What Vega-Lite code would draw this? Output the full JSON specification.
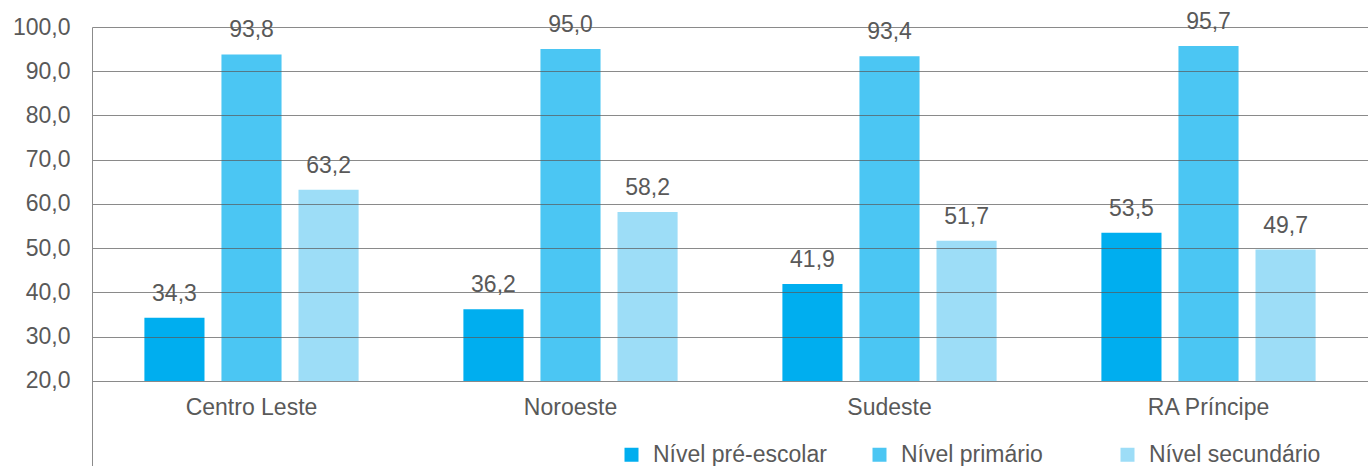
{
  "$schema": "https://vega.github.io/schema/vega-lite/v6.json",
  "autosize": {"type": "none"},
  "padding": {"left": 92, "top": 27, "right": 0, "bottom": 0},
  "width": 1276,
  "height": 439,
  "background": "white",
  "config": {
    "locale": {"number": {"decimal": ",", "thousands": ".", "grouping": [3], "currency": ["", ""]}},
    "font": "Liberation Sans",
    "view": {"stroke": null}
  },
  "datasets": {
    "main": [
      {"regiao": "Centro Leste", "nivel": "Nível pré-escolar", "valor": 34.3},
      {"regiao": "Centro Leste", "nivel": "Nível primário", "valor": 93.8},
      {"regiao": "Centro Leste", "nivel": "Nível secundário", "valor": 63.2},
      {"regiao": "Noroeste", "nivel": "Nível pré-escolar", "valor": 36.2},
      {"regiao": "Noroeste", "nivel": "Nível primário", "valor": 95.0},
      {"regiao": "Noroeste", "nivel": "Nível secundário", "valor": 58.2},
      {"regiao": "Sudeste", "nivel": "Nível pré-escolar", "valor": 41.9},
      {"regiao": "Sudeste", "nivel": "Nível primário", "valor": 93.4},
      {"regiao": "Sudeste", "nivel": "Nível secundário", "valor": 51.7},
      {"regiao": "RA Príncipe", "nivel": "Nível pré-escolar", "valor": 53.5},
      {"regiao": "RA Príncipe", "nivel": "Nível primário", "valor": 95.7},
      {"regiao": "RA Príncipe", "nivel": "Nível secundário", "valor": 49.7}
    ],
    "cats": [
      {"regiao": "Centro Leste"},
      {"regiao": "Noroeste"},
      {"regiao": "Sudeste"},
      {"regiao": "RA Príncipe"}
    ]
  },
  "layer": [
    {
      "data": {"name": "main"},
      "mark": {"type": "bar"},
      "encoding": {
        "x": {"field": "regiao", "type": "nominal", "sort": ["Centro Leste", "Noroeste", "Sudeste", "RA Príncipe"], "scale": {"paddingInner": 0, "paddingOuter": 0}, "axis": null},
        "xOffset": {"field": "nivel", "type": "nominal", "sort": ["Nível pré-escolar", "Nível primário", "Nível secundário"], "scale": {"paddingInner": 0.22, "paddingOuter": 0.68}},
        "y": {"field": "valor", "type": "quantitative", "scale": {"domain": [0.79, 100], "nice": false, "zero": false},
          "axis": {"values": [20, 30, 40, 50, 60, 70, 80, 90, 100], "format": ".1f", "title": null, "ticks": false, "labelPadding": 22, "labelFontSize": 23, "labelColor": "#595959", "grid": true, "gridColor": "#595959", "gridOpacity": 0.7, "domainColor": "#8b8b8b", "zindex": 1}},
        "y2": {"datum": 20},
        "color": {"field": "nivel", "type": "nominal",
          "scale": {"domain": ["Nível pré-escolar", "Nível primário", "Nível secundário"], "range": ["#00AEEF", "#4BC6F3", "#9DDDF7"]},
          "legend": {"title": null, "orient": "none", "legendX": 528, "legendY": 416, "direction": "horizontal", "columns": 3, "gridAlign": "all", "columnPadding": 41, "symbolType": "square", "symbolSize": 196, "symbolStrokeWidth": 0, "labelFontSize": 23, "labelColor": "#595959", "labelOffset": 10, "labelLimit": 400, "padding": 0}}
      }
    },
    {
      "data": {"name": "main"},
      "mark": {"type": "text", "baseline": "middle", "dy": -24, "fontSize": 23, "color": "#595959"},
      "encoding": {
        "x": {"field": "regiao", "type": "nominal", "sort": ["Centro Leste", "Noroeste", "Sudeste", "RA Príncipe"]},
        "xOffset": {"field": "nivel", "type": "nominal", "sort": ["Nível pré-escolar", "Nível primário", "Nível secundário"]},
        "y": {"field": "valor", "type": "quantitative"},
        "text": {"field": "valor", "type": "quantitative", "format": ".1f"}
      }
    },
    {
      "data": {"name": "cats"},
      "mark": {"type": "text", "baseline": "middle", "fontSize": 23, "color": "#595959"},
      "encoding": {
        "x": {"field": "regiao", "type": "nominal", "sort": ["Centro Leste", "Noroeste", "Sudeste", "RA Príncipe"]},
        "y": {"datum": 13.9},
        "text": {"field": "regiao", "type": "nominal"}
      }
    }
  ]
}
